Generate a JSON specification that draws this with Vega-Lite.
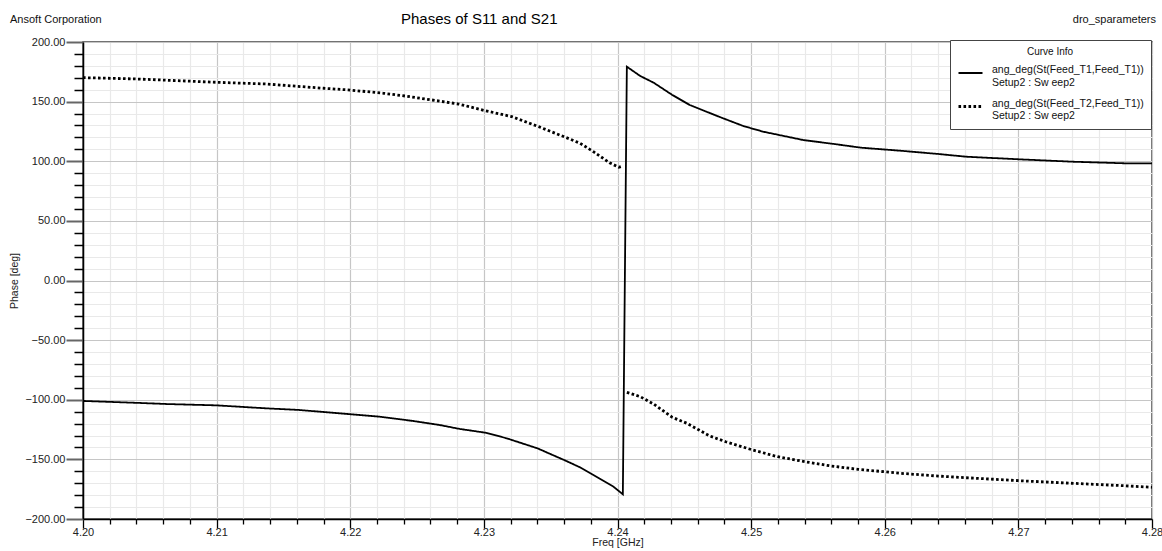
{
  "$schema": "https://vega.github.io/schema/vega-lite/v6.json",
  "width": 1069,
  "height": 477,
  "autosize": {"type": "none"},
  "padding": {"left": 83, "top": 42, "right": 10, "bottom": 32},
  "background": "white",
  "config": {
    "font": "Liberation Sans",
    "view": {"stroke": "#444", "strokeWidth": 1.5}
  },
  "datasets": {
    "curves": [
      {"f": 4.2000, "p": -101.0, "curve": "S11", "seg": "S11a"},
      {"f": 4.2038, "p": -102.5, "curve": "S11", "seg": "S11a"},
      {"f": 4.2063, "p": -103.6, "curve": "S11", "seg": "S11a"},
      {"f": 4.2100, "p": -104.7, "curve": "S11", "seg": "S11a"},
      {"f": 4.2137, "p": -107.2, "curve": "S11", "seg": "S11a"},
      {"f": 4.2162, "p": -108.6, "curve": "S11", "seg": "S11a"},
      {"f": 4.2190, "p": -111.2, "curve": "S11", "seg": "S11a"},
      {"f": 4.2222, "p": -114.2, "curve": "S11", "seg": "S11a"},
      {"f": 4.2247, "p": -117.8, "curve": "S11", "seg": "S11a"},
      {"f": 4.2267, "p": -121.2, "curve": "S11", "seg": "S11a"},
      {"f": 4.2282, "p": -124.5, "curve": "S11", "seg": "S11a"},
      {"f": 4.2301, "p": -127.6, "curve": "S11", "seg": "S11a"},
      {"f": 4.2317, "p": -132.3, "curve": "S11", "seg": "S11a"},
      {"f": 4.2340, "p": -140.7, "curve": "S11", "seg": "S11a"},
      {"f": 4.2360, "p": -150.5, "curve": "S11", "seg": "S11a"},
      {"f": 4.2372, "p": -156.7, "curve": "S11", "seg": "S11a"},
      {"f": 4.2382, "p": -163.1, "curve": "S11", "seg": "S11a"},
      {"f": 4.2397, "p": -172.9, "curve": "S11", "seg": "S11a"},
      {"f": 4.2404, "p": -179.3, "curve": "S11", "seg": "S11a"},
      {"f": 4.2407, "p": 179.3, "curve": "S11", "seg": "S11a"},
      {"f": 4.2417, "p": 171.5, "curve": "S11", "seg": "S11a"},
      {"f": 4.2427, "p": 165.9, "curve": "S11", "seg": "S11a"},
      {"f": 4.2441, "p": 155.6, "curve": "S11", "seg": "S11a"},
      {"f": 4.2454, "p": 147.2, "curve": "S11", "seg": "S11a"},
      {"f": 4.2477, "p": 136.9, "curve": "S11", "seg": "S11a"},
      {"f": 4.2494, "p": 129.6, "curve": "S11", "seg": "S11a"},
      {"f": 4.2509, "p": 124.8, "curve": "S11", "seg": "S11a"},
      {"f": 4.2539, "p": 117.8, "curve": "S11", "seg": "S11a"},
      {"f": 4.2562, "p": 114.5, "curve": "S11", "seg": "S11a"},
      {"f": 4.2582, "p": 111.4, "curve": "S11", "seg": "S11a"},
      {"f": 4.2612, "p": 108.8, "curve": "S11", "seg": "S11a"},
      {"f": 4.2640, "p": 106.1, "curve": "S11", "seg": "S11a"},
      {"f": 4.2661, "p": 103.8, "curve": "S11", "seg": "S11a"},
      {"f": 4.2701, "p": 101.6, "curve": "S11", "seg": "S11a"},
      {"f": 4.2741, "p": 99.6, "curve": "S11", "seg": "S11a"},
      {"f": 4.2779, "p": 98.3, "curve": "S11", "seg": "S11a"},
      {"f": 4.2800, "p": 98.2, "curve": "S11", "seg": "S11a"},

      {"f": 4.2000, "p": 170.1, "curve": "S21", "seg": "S21a"},
      {"f": 4.2040, "p": 169.0, "curve": "S21", "seg": "S21a"},
      {"f": 4.2100, "p": 166.2, "curve": "S21", "seg": "S21a"},
      {"f": 4.2137, "p": 164.8, "curve": "S21", "seg": "S21a"},
      {"f": 4.2180, "p": 161.2, "curve": "S21", "seg": "S21a"},
      {"f": 4.2200, "p": 159.7, "curve": "S21", "seg": "S21a"},
      {"f": 4.2225, "p": 157.0, "curve": "S21", "seg": "S21a"},
      {"f": 4.2241, "p": 154.7, "curve": "S21", "seg": "S21a"},
      {"f": 4.2261, "p": 151.4, "curve": "S21", "seg": "S21a"},
      {"f": 4.2281, "p": 148.0, "curve": "S21", "seg": "S21a"},
      {"f": 4.2301, "p": 142.4, "curve": "S21", "seg": "S21a"},
      {"f": 4.2321, "p": 137.4, "curve": "S21", "seg": "S21a"},
      {"f": 4.2341, "p": 129.0, "curve": "S21", "seg": "S21a"},
      {"f": 4.2361, "p": 120.1, "curve": "S21", "seg": "S21a"},
      {"f": 4.2372, "p": 115.1, "curve": "S21", "seg": "S21a"},
      {"f": 4.2382, "p": 108.0, "curve": "S21", "seg": "S21a"},
      {"f": 4.2394, "p": 98.8, "curve": "S21", "seg": "S21a"},
      {"f": 4.2401, "p": 94.9, "curve": "S21", "seg": "S21a"},
      {"f": 4.2404, "p": 96.0, "curve": "S21", "seg": "S21a"},

      {"f": 4.2407, "p": -93.8, "curve": "S21", "seg": "S21b"},
      {"f": 4.2417, "p": -97.4, "curve": "S21", "seg": "S21b"},
      {"f": 4.2427, "p": -103.6, "curve": "S21", "seg": "S21b"},
      {"f": 4.2441, "p": -114.7, "curve": "S21", "seg": "S21b"},
      {"f": 4.2452, "p": -119.8, "curve": "S21", "seg": "S21b"},
      {"f": 4.2461, "p": -125.4, "curve": "S21", "seg": "S21b"},
      {"f": 4.2469, "p": -130.4, "curve": "S21", "seg": "S21b"},
      {"f": 4.2481, "p": -135.2, "curve": "S21", "seg": "S21b"},
      {"f": 4.2501, "p": -142.1, "curve": "S21", "seg": "S21b"},
      {"f": 4.2520, "p": -147.8, "curve": "S21", "seg": "S21b"},
      {"f": 4.2540, "p": -151.9, "curve": "S21", "seg": "S21b"},
      {"f": 4.2560, "p": -155.6, "curve": "S21", "seg": "S21b"},
      {"f": 4.2580, "p": -158.3, "curve": "S21", "seg": "S21b"},
      {"f": 4.2612, "p": -161.7, "curve": "S21", "seg": "S21b"},
      {"f": 4.2640, "p": -164.0, "curve": "S21", "seg": "S21b"},
      {"f": 4.2661, "p": -165.4, "curve": "S21", "seg": "S21b"},
      {"f": 4.2701, "p": -167.9, "curve": "S21", "seg": "S21b"},
      {"f": 4.2741, "p": -170.1, "curve": "S21", "seg": "S21b"},
      {"f": 4.2779, "p": -172.1, "curve": "S21", "seg": "S21b"},
      {"f": 4.2800, "p": -173.4, "curve": "S21", "seg": "S21b"}
    ],
    "corner": [{"label": "Ansoft Corporation"}],
    "corner2": [{"label": "dro_sparameters"}],
    "maintitle": [{"label": "Phases of S11 and S21"}]
  },
  "layer": [
    {
      "data": {"name": "curves"},
      "mark": {"type": "line", "color": "black", "clip": true},
      "encoding": {
        "x": {
          "field": "f",
          "type": "quantitative",
          "scale": {"domain": [4.2, 4.28], "nice": false, "zero": false},
          "axis": {
            "values": [4.2,4.202,4.204,4.206,4.208,4.21,4.212,4.214,4.216,4.218,4.22,4.222,4.224,4.226,4.228,4.23,4.232,4.234,4.236,4.238,4.24,4.242,4.244,4.246,4.248,4.25,4.252,4.254,4.256,4.258,4.26,4.262,4.264,4.266,4.268,4.27,4.272,4.274,4.276,4.278,4.28],
            "tickCount": 200,
            "labelExpr": "abs(datum.value*100 - round(datum.value*100)) < 0.01 ? format(datum.value, '.2f') : ''",
            "grid": true,
            "gridColor": {"condition": {"test": "abs(datum.value*100 - round(datum.value*100)) < 0.01", "value": "#c6c6c6"}, "value": "#e9e9e9"},
            "gridWidth": 1.2,
            "tickSize": {"condition": {"test": "abs(datum.value*100 - round(datum.value*100)) < 0.01", "value": 9}, "value": 5},
            "tickColor": "#000",
            "tickWidth": 1.3,
            "domainColor": "#000",
            "domainWidth": 1.5,
            "labelFontSize": 11,
            "labelColor": "#222",
            "labelPadding": -2,
            "labelFlush": false,
            "labelOverlap": false,
            "labelBound": false,
            "title": "Freq [GHz]",
            "titleFontSize": 10.5,
            "titleFontWeight": "normal",
            "titleColor": "#222",
            "titlePadding": 0
          }
        },
        "y": {
          "field": "p",
          "type": "quantitative",
          "scale": {"domain": [-200, 200], "nice": false, "zero": false},
          "axis": {
            "values": [-200,-190,-180,-170,-160,-150,-140,-130,-120,-110,-100,-90,-80,-70,-60,-50,-40,-30,-20,-10,0,10,20,30,40,50,60,70,80,90,100,110,120,130,140,150,160,170,180,190,200],
            "tickCount": 200,
            "labelExpr": "datum.value % 50 === 0 ? format(datum.value, '.2f') : ''",
            "grid": true,
            "gridColor": {"condition": {"test": "datum.value % 50 === 0", "value": "#c6c6c6"}, "value": "#e9e9e9"},
            "gridWidth": 1.2,
            "tickSize": {"condition": {"test": "datum.value % 50 === 0", "value": 17}, "value": 9},
            "tickColor": {"condition": {"test": "datum.value % 50 === 0", "value": "#666"}, "value": "#000"},
            "tickWidth": {"condition": {"test": "datum.value % 50 === 0", "value": 2}, "value": 1.5},
            "domainColor": "#000",
            "domainWidth": 1.5,
            "labelFontSize": 11,
            "labelColor": "#222",
            "labelPadding": 1,
            "labelFlush": false,
            "labelOverlap": false,
            "labelBound": false,
            "title": "Phase [deg]",
            "titleFontSize": 10.5,
            "titleFontWeight": "normal",
            "titleColor": "#222",
            "titlePadding": 5
          }
        },
        "strokeDash": {
          "field": "curve",
          "type": "nominal",
          "scale": {"domain": ["S11", "S21"], "range": [[1, 0], [2.6, 2.4]]},
          "legend": {
            "title": "Curve Info",
            "orient": "none",
            "legendX": 867,
            "legendY": -2,
            "direction": "vertical",
            "titleAnchor": "middle",
            "titleFontSize": 10,
            "titleFontWeight": "normal",
            "titleColor": "#111",
            "titlePadding": 3,
            "labelExpr": "datum.value == 'S11' ? ['ang_deg(St(Feed_T1,Feed_T1))', 'Setup2 : Sw eep2'] : ['ang_deg(St(Feed_T2,Feed_T1))', 'Setup2 : Sw eep2']",
            "labelFontSize": 10.5,
            "labelColor": "#111",
            "labelBaseline": "alphabetic",
            "labelOffset": 8,
            "labelLimit": 300,
            "symbolType": "stroke",
            "symbolSize": 576,
            "symbolStrokeColor": "black",
            "symbolStrokeWidth": 2,
            "rowPadding": 5,
            "strokeColor": "#444",
            "fillColor": "white",
            "padding": 7
          }
        },
        "strokeWidth": {
          "field": "curve",
          "type": "nominal",
          "scale": {"domain": ["S11", "S21"], "range": [1.8, 2.8]},
          "legend": null
        },
        "detail": {"field": "seg", "type": "nominal"}
      }
    },
    {
      "data": {"name": "corner"},
      "mark": {"type": "text", "align": "left", "baseline": "alphabetic", "dx": -73, "dy": -19, "fontSize": 11, "color": "#111"},
      "encoding": {
        "x": {"datum": 4.2, "type": "quantitative"},
        "y": {"datum": 200, "type": "quantitative"},
        "text": {"field": "label"}
      }
    },
    {
      "data": {"name": "corner2"},
      "mark": {"type": "text", "align": "right", "baseline": "alphabetic", "dx": 4, "dy": -19, "fontSize": 11, "color": "#111"},
      "encoding": {
        "x": {"datum": 4.28, "type": "quantitative"},
        "y": {"datum": 200, "type": "quantitative"},
        "text": {"field": "label"}
      }
    },
    {
      "data": {"name": "maintitle"},
      "mark": {"type": "text", "align": "left", "baseline": "alphabetic", "dx": 318, "dy": -18, "fontSize": 15, "color": "#000"},
      "encoding": {
        "x": {"datum": 4.2, "type": "quantitative"},
        "y": {"datum": 200, "type": "quantitative"},
        "text": {"field": "label"}
      }
    }
  ]
}
